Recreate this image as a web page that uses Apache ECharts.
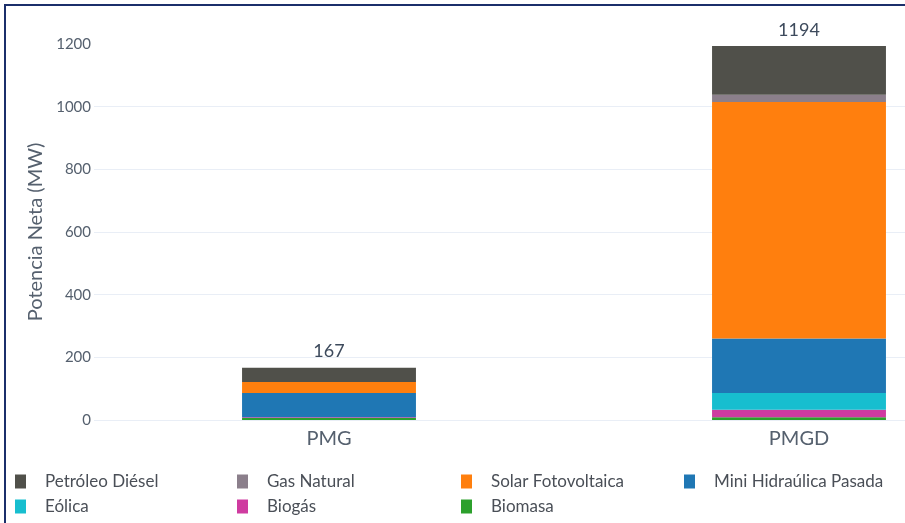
<!DOCTYPE html>
<html>
<head>
<meta charset="utf-8">
<script src="https://cdn.jsdelivr.net/npm/echarts@6/dist/echarts.min.js"></script>
<style>
  html, body { margin: 0; padding: 0; background: #fff; }
  #chart { width: 905px; height: 523px; }
</style>
</head>
<body>
<div id="chart"></div>
<script>
// categorias y valores (MW), de abajo hacia arriba en la pila
const categorias = ['PMG', 'PMGD']
const biomasa = [6, 9]
const biogas = [3, 24]
const eolica = [0, 53]
const miniHidraulica = [77, 174]
const solar = [35, 755]
const gasNatural = [0, 23]
const diesel = [46, 156]
const totales = [167, 1194]
const yTicks = [0, 200, 400, 600, 800, 1000, 1200]

const fuente = 'Lato, "Open Sans", sans-serif'
const colorTexto = '#55606e'

const series = [
    { name: 'Biomasa', data: biomasa, color: '#2ca02c' },
    { name: 'Biogás', data: biogas, color: '#cf3ba0' },
    { name: 'Eólica', data: eolica, color: '#17becf' },
    { name: 'Mini Hidraúlica Pasada', data: miniHidraulica, color: '#1f77b4' },
    { name: 'Solar Fotovoltaica', data: solar, color: '#ff7f0e' },
    { name: 'Gas Natural', data: gasNatural, color: '#8b7f8b' },
    { name: 'Petróleo Diésel', data: diesel, color: '#50504a' },
].map((s, i, arr) => ({
    name: s.name,
    type: 'bar',
    stack: 'total',
    barWidth: '37%',
    data: s.data,
    itemStyle: { color: s.color },
    label: i === arr.length - 1 ? {
        show: true,
        position: 'top',
        distance: 7,
        fontFamily: fuente,
        fontSize: 18,
        color: '#3d4a5c',
        formatter: (p) => String(totales[p.dataIndex]),
    } : { show: false },
}))

// columnas de la leyenda
const columnas = [
    { left: 15, data: ['Petróleo Diésel', 'Eólica'] },
    { left: 237, data: ['Gas Natural', 'Biogás'] },
    { left: 461, data: ['Solar Fotovoltaica', 'Biomasa'] },
    { left: 684, data: ['Mini Hidraúlica Pasada'] },
]

const chart = echarts.init(document.getElementById('chart'))
chart.setOption({
    animation: false,
    grid: {
        left: 94, top: 44, width: 940, height: 376,
        containLabel: false, outerBoundsMode: 'none',
    },
    legend: columnas.map((c) => ({
        orient: 'vertical',
        left: c.left,
        top: 473,
        padding: 0,
        itemWidth: 11,
        itemHeight: 14,
        itemGap: 8,
        icon: 'rect',
        data: c.data,
        selectedMode: false,
        textStyle: {
            fontFamily: fuente,
            fontSize: 17,
            color: '#4a4f57',
            padding: [0, 0, 0, 14],
        },
    })),
    xAxis: {
        type: 'category',
        data: categorias,
        axisLine: { show: false },
        axisTick: { show: false },
        axisLabel: {
            margin: 9,
            fontFamily: fuente,
            fontSize: 20,
            color: colorTexto,
        },
    },
    yAxis: {
        type: 'value',
        min: 0,
        max: 1200,
        interval: 200,
        name: 'Potencia Neta (MW)',
        nameLocation: 'middle',
        nameGap: 47,
        nameTextStyle: { fontFamily: fuente, fontSize: 20, color: colorTexto },
        axisLine: { show: false },
        axisTick: { show: false },
        axisLabel: {
            margin: 3,
            fontFamily: fuente,
            fontSize: 15,
            color: colorTexto,
            formatter: (v) => (yTicks.includes(v) ? String(v) : ''),
        },
        splitLine: { showMaxLine: false, lineStyle: { color: '#e9eef6', width: 1 } },
    },
    graphic: [
        { type: 'line', shape: { x1: 5, y1: 5, x2: 905, y2: 5 }, style: { stroke: '#1b2f6b', lineWidth: 2 } },
        { type: 'line', shape: { x1: 5, y1: 4, x2: 5, y2: 523 }, style: { stroke: '#1b2f6b', lineWidth: 2 } },
    ],
    series: series,
})
</script>
</body>
</html>
